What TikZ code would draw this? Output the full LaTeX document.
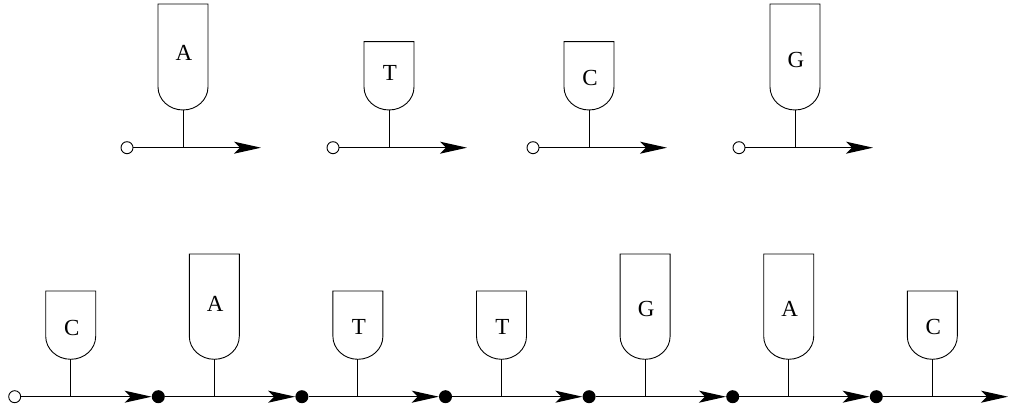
\documentclass[tikz,border=0pt]{standalone}
\usepackage{fontspec}
\setmainfont{Liberation Serif}
\usetikzlibrary{arrows.meta}

\tikzset{
  cupline/.style={line width=0.9pt, line join=miter},
  stemline/.style={line width=0.9pt},
  strand/.style={line width=1.3pt, -{Stealth[length=27pt,width=12pt,inset=6pt]}},
  base/.style={inner sep=0pt, font=\fontsize{23}{23}\selectfont},
  opendot/.style={circle, draw, fill=white, line width=0.9pt, inner sep=0pt, minimum size=12pt},
  filldot/.style={circle, fill=black, inner sep=0pt, minimum size=13pt},
}

% #1 name, #2 stem x, #3 cup bottom y, #4 cup height, #5 letter, #6 letter y, #7 strand y
\newcommand\drawglass[7]{%
  \draw[cupline] (#2-25,#3+23) arc[start angle=180,end angle=360,x radius=25,y radius=23]
    -- (#2+25,#3+#4) -- (#2-25,#3+#4) -- cycle;
  \coordinate (#1-b) at (#2,#3);
  \coordinate (#1-j) at (#2,#7);
  \node[base] (#1-l) at (#2+1,#6) {#5};
  \draw[stemline] (#1-b) -- (#1-j);
}

\begin{document}
\begin{tikzpicture}[x=1pt,y=1pt]
\useasboundingbox (0,0) rectangle (1012,412);

% ---- single nucleotides ----
\drawglass{tA}{183}{302}{106}{A}{359}{264.3}
\drawglass{tT}{389}{302}{68.3}{T}{339}{264.3}
\drawglass{tC}{589}{302}{68.3}{C}{333.7}{264.3}
\drawglass{tG}{795}{302}{106}{G}{351.5}{264.3}

\foreach \n/\x in {A/183,T/389,C/589,G/795}{
  \node[opendot] (o\n) at (\x-56,264.3) {};
  \coordinate (e\n) at (\x+78,264.3);
  \draw[strand] (o\n) -- (e\n);
}

% ---- strand CATTGAC ----
\drawglass{b1}{70.7}{52.7}{68.3}{C}{84}{15.3}
\drawglass{b2}{214.3}{52.7}{105.3}{A}{108}{15.3}
\drawglass{b3}{357.9}{52.7}{68.3}{T}{84.7}{15.3}
\drawglass{b4}{501.5}{52.7}{68.3}{T}{84.7}{15.3}
\drawglass{b5}{645.1}{52.7}{105.3}{G}{103}{15.3}
\drawglass{b6}{788.7}{52.7}{105.3}{A}{103.5}{15.3}
\drawglass{b7}{932.3}{52.7}{68.3}{C}{84.7}{15.3}

\node[opendot] (d0) at (14.7,15.3) {};
\node[filldot] (d1) at (158.3,15.3) {};
\node[filldot] (d2) at (301.9,15.3) {};
\node[filldot] (d3) at (445.5,15.3) {};
\node[filldot] (d4) at (589.1,15.3) {};
\node[filldot] (d5) at (732.7,15.3) {};
\node[filldot] (d6) at (876.3,15.3) {};
\coordinate (d7) at (1008,15.3);

\draw[strand] (d0) -- (d1);
\draw[strand] (d1) -- (d2);
\draw[strand] (d2) -- (d3);
\draw[strand] (d3) -- (d4);
\draw[strand] (d4) -- (d5);
\draw[strand] (d5) -- (d6);
\draw[strand] (d6) -- (d7);
\end{tikzpicture}
\end{document}
